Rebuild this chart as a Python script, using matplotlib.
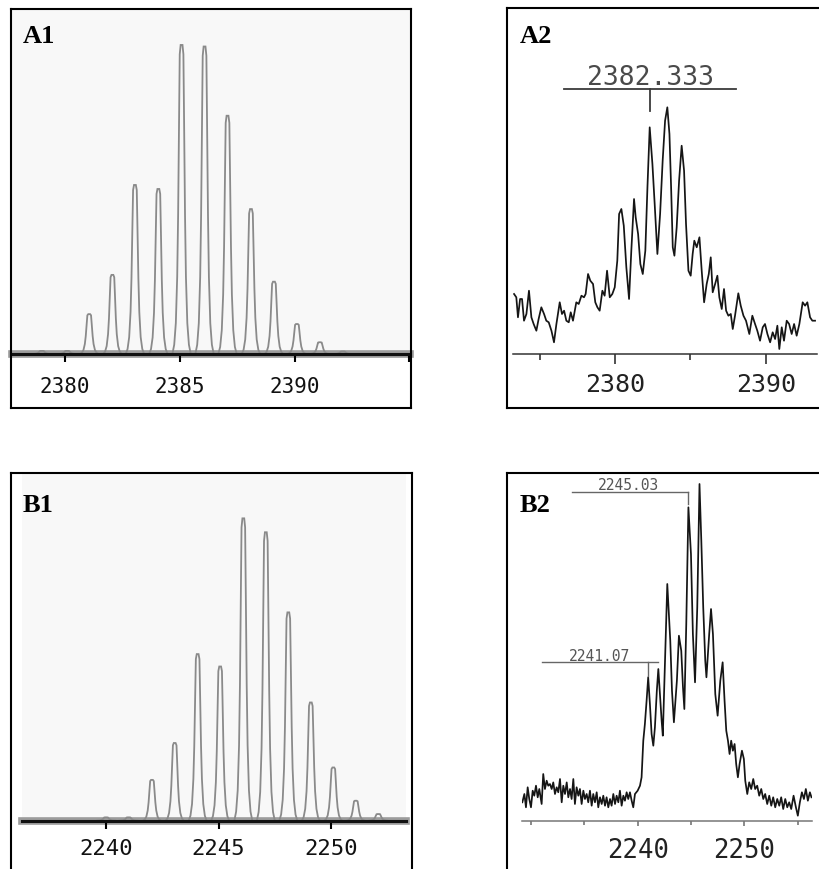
import numpy as np
import matplotlib
matplotlib.use("Agg")
import matplotlib.pyplot as plt

W, H = 819, 870

# ---------------- data ----------------
# A1: simulated isotope pattern (peak m/z, relative intensity %)
a1_mz = [2379.0, 2380.1, 2381.06, 2382.07, 2383.05, 2384.07, 2385.08, 2386.08,
         2387.08, 2388.1, 2389.1, 2390.1, 2391.1, 2392.1]
a1_int = [1.0, 1.0, 12.9, 25.6, 54.7, 53.4, 100.0, 99.5, 77.1, 46.9, 23.4, 9.7, 3.8, 0.8]

# B1: simulated isotope pattern
b1_mz = [2240.0, 2241.0, 2242.04, 2243.05, 2244.07, 2245.07, 2246.1, 2247.1,
         2248.1, 2249.1, 2250.1, 2251.1, 2252.1]
b1_int = [1.1, 1.1, 13.5, 25.7, 55.1, 51.0, 100.0, 95.4, 68.9, 39.1, 17.6, 6.6, 2.2]

# A2: measured spectrum trace (m/z, intensity a.u.)
a2_mz = [2373.30, 2373.45, 2373.56, 2373.70, 2373.83, 2373.96, 2374.12, 2374.29, 2374.45, 2374.60,
         2374.78, 2374.93, 2375.11, 2375.29, 2375.44, 2375.60, 2375.78, 2375.95, 2376.11, 2376.33,
         2376.48, 2376.62, 2376.77, 2376.93, 2377.06, 2377.21, 2377.43, 2377.59, 2377.77, 2377.94,
         2378.05, 2378.21, 2378.36, 2378.54, 2378.69, 2378.83, 2378.98, 2379.16, 2379.31, 2379.47,
         2379.65, 2379.82, 2379.98, 2380.15, 2380.27, 2380.42, 2380.58, 2380.75, 2380.93, 2381.08,
         2381.26, 2381.37, 2381.53, 2381.68, 2381.84, 2382.01, 2382.15, 2382.30, 2382.48, 2382.63,
         2382.81, 2382.99, 2383.16, 2383.32, 2383.47, 2383.61, 2383.72, 2383.83, 2383.94, 2384.09,
         2384.25, 2384.42, 2384.58, 2384.71, 2384.87, 2385.02, 2385.15, 2385.26, 2385.42, 2385.60,
         2385.75, 2385.91, 2386.08, 2386.22, 2386.35, 2386.48, 2386.64, 2386.79, 2386.92, 2387.08,
         2387.23, 2387.37, 2387.52, 2387.68, 2387.81, 2387.96, 2388.18, 2388.34, 2388.52, 2388.69,
         2388.91, 2389.11, 2389.29, 2389.44, 2389.62, 2389.80, 2389.95, 2390.11, 2390.29, 2390.46,
         2390.62, 2390.77, 2390.90, 2391.06, 2391.21, 2391.39, 2391.55, 2391.72, 2391.88, 2392.05,
         2392.23, 2392.45, 2392.61, 2392.76, 2392.94, 2393.09, 2393.27]
a2_int = [60.0, 56.7, 36.7, 55.0, 55.0, 33.3, 40.0, 63.3, 36.7, 30.0,
          23.3, 35.0, 46.7, 40.0, 33.3, 31.7, 23.3, 11.7, 30.0, 51.7,
          40.0, 43.3, 33.3, 31.7, 41.7, 33.3, 51.7, 50.0, 58.3, 56.7,
          60.0, 80.0, 73.3, 70.0, 51.7, 46.7, 43.3, 63.3, 58.3, 83.3,
          56.7, 60.0, 66.7, 93.3, 140.0, 145.0, 128.3, 86.7, 55.0, 103.3,
          155.0, 136.7, 120.0, 90.0, 80.0, 103.3, 166.7, 226.7, 190.0, 150.0,
          100.0, 140.0, 193.3, 233.3, 246.7, 220.0, 166.7, 106.7, 98.3, 126.7,
          173.3, 208.3, 183.3, 130.0, 83.3, 78.3, 100.0, 113.3, 106.7, 116.7,
          83.3, 51.7, 70.0, 80.0, 96.7, 61.7, 70.0, 78.3, 56.7, 45.0,
          65.0, 43.3, 38.3, 40.0, 25.0, 38.3, 60.7, 48.3, 38.3, 33.3,
          20.0, 38.3, 30.0, 23.3, 13.3, 26.7, 30.0, 20.0, 11.7, 21.7,
          15.0, 28.3, 5.0, 26.7, 13.3, 33.3, 30.0, 20.0, 30.0, 18.3,
          30.0, 51.7, 48.3, 51.7, 36.7, 33.3, 33.3]

# B2: measured spectrum trace (m/z, intensity a.u.)
b2_mz = [2229.19, 2229.38, 2229.53, 2229.69, 2229.84, 2230.00, 2230.16, 2230.31, 2230.47, 2230.63,
         2230.78, 2231.00, 2231.15, 2231.31, 2231.47, 2231.62, 2231.78, 2231.94, 2232.09, 2232.25,
         2232.41, 2232.56, 2232.72, 2232.88, 2233.03, 2233.19, 2233.35, 2233.50, 2233.66, 2233.81,
         2233.97, 2234.12, 2234.28, 2234.44, 2234.59, 2234.75, 2234.91, 2235.06, 2235.22, 2235.37,
         2235.53, 2235.69, 2235.84, 2236.00, 2236.16, 2236.31, 2236.47, 2236.63, 2236.78, 2236.94,
         2237.09, 2237.25, 2237.41, 2237.56, 2237.72, 2237.88, 2238.03, 2238.19, 2238.34, 2238.50,
         2238.66, 2238.81, 2238.97, 2239.12, 2239.28, 2239.44, 2239.59, 2239.75, 2240.00, 2240.22,
         2240.37, 2240.53, 2240.68, 2240.84, 2240.99, 2241.15, 2241.31, 2241.47, 2241.62, 2241.80,
         2241.94, 2242.10, 2242.25, 2242.36, 2242.53, 2242.78, 2243.06, 2243.22, 2243.40, 2243.68,
         2243.87, 2244.09, 2244.25, 2244.38, 2244.56, 2244.76, 2245.00, 2245.18, 2245.38, 2245.59,
         2245.80, 2245.97, 2246.15, 2246.34, 2246.45, 2246.71, 2246.88, 2247.06, 2247.28, 2247.50,
         2247.75, 2247.97, 2248.15, 2248.31, 2248.47, 2248.62, 2248.77, 2248.93, 2249.09, 2249.24,
         2249.40, 2249.56, 2249.78, 2249.96, 2250.09, 2250.28, 2250.46, 2250.65, 2250.84, 2251.02,
         2251.21, 2251.40, 2251.59, 2251.78, 2251.96, 2252.15, 2252.34, 2252.53, 2252.71, 2252.90,
         2253.09, 2253.28, 2253.46, 2253.65, 2253.84, 2254.03, 2254.21, 2254.40, 2254.62, 2254.84,
         2255.02, 2255.21, 2255.40, 2255.59, 2255.77, 2255.96, 2256.15, 2256.30]
b2_int = [18.4, 26.7, 13.4, 33.4, 21.7, 13.4, 30.0, 25.0, 35.0, 23.4,
          31.7, 16.7, 46.7, 31.7, 40.0, 35.0, 36.7, 31.7, 38.3, 26.7,
          33.4, 28.4, 41.7, 18.4, 35.0, 26.7, 38.3, 23.4, 31.7, 21.7,
          41.7, 16.7, 33.4, 25.0, 31.7, 16.7, 30.0, 21.7, 26.7, 18.4,
          30.0, 15.0, 26.7, 18.4, 28.4, 13.4, 23.4, 16.7, 25.0, 15.0,
          23.4, 13.4, 21.7, 15.0, 26.7, 16.7, 25.0, 18.4, 30.0, 15.0,
          25.0, 20.0, 28.4, 21.7, 28.4, 20.0, 13.4, 26.7, 30.0, 35.0,
          43.4, 80.0, 96.7, 120.0, 143.4, 116.7, 86.7, 75.0, 93.4, 130.0,
          151.7, 125.0, 100.0, 85.0, 146.7, 236.7, 180.0, 130.0, 98.4, 140.0,
          185.0, 170.0, 133.4, 111.7, 196.7, 313.4, 266.7, 186.7, 138.4, 213.4,
          336.7, 280.0, 213.4, 160.0, 143.4, 186.7, 211.7, 186.7, 126.7, 105.0,
          140.0, 158.4, 120.0, 90.0, 80.0, 66.7, 80.0, 70.0, 76.7, 56.7,
          43.4, 56.7, 70.0, 61.7, 40.0, 26.7, 38.4, 31.7, 41.7, 31.7,
          35.0, 25.0, 31.7, 21.7, 26.7, 16.7, 25.0, 15.0, 23.4, 13.4,
          21.7, 15.0, 23.4, 11.7, 21.7, 13.4, 18.4, 11.7, 25.0, 13.4,
          5.0, 18.4, 28.4, 21.7, 31.7, 20.0, 28.4, 23.4]

# axis ticks / labels
a1_ticks, a1_labels = [2380, 2385, 2390, 2395], ["2380", "2385", "2390", ""]
a2_major, a2_labels, a2_minor = [2380, 2390], ["2380", "2390"], [2375, 2385]
b1_ticks, b1_labels = [2240, 2245, 2250], ["2240", "2245", "2250"]
b2_major, b2_labels, b2_minor = [2240, 2250], ["2240", "2250"], [2230, 2235, 2245, 2255]

# annotations
a2_annot = ("2382.333", 2382.32)
b2_annots = [("2245.03", 2244.74), ("2241.07", 2240.94)]

panel_titles = ["A1", "A2", "B1", "B2"]

# ---------------- helpers ----------------
fig = plt.figure(figsize=(W / 100, H / 100), dpi=100)
fig.patch.set_facecolor("white")


def box(x0, y0, x1, y1):
    return [x0 / W, 1 - y1 / H, (x1 - x0) / W, (y1 - y0) / H]


def frame(x0, y0, x1, y1):
    ax = fig.add_axes(box(x0, y0, x1, y1), zorder=5)
    ax.set_facecolor("none")
    ax.set_xticks([])
    ax.set_yticks([])
    for s in ax.spines.values():
        s.set_linewidth(1.5)
        s.set_color("black")
    return ax


def inner(x0, y0, x1, y1, xlim, ylim, face):
    ax = fig.add_axes(box(x0, y0, x1, y1), zorder=1)
    ax.set_facecolor(face)
    for k in ("top", "left", "right"):
        ax.spines[k].set_visible(False)
    ax.set_yticks([])
    ax.set_xlim(*xlim)
    ax.set_ylim(*ylim)
    return ax


mono = "DejaVu Sans Mono"

# peak outline template (fraction of height, half width in m/z)
prof_f = np.array([0.0, 0.03, 0.10, 0.25, 0.45, 0.75, 0.97, 1.0])
prof_w = np.array([0.40, 0.32, 0.25, 0.19, 0.15, 0.11, 0.08, 0.04])
pk_f = np.concatenate([prof_f, prof_f[::-1]])


def stick_panel(ax, mz, inten, ticks, labels, fs, pad):
    for c, h in zip(mz, inten):
        xs = np.concatenate([c - prof_w, (c + prof_w)[::-1]])
        ax.plot(xs, h * pk_f, color="#8a8a8a", lw=1.3, solid_joinstyle="miter")
    ax.axhline(0, color="#9c9c9c", lw=5.5, zorder=1.5, clip_on=False)
    ax.spines["bottom"].set_linewidth(2.2)
    ax.spines["bottom"].set_color("#111111")
    ax.spines["bottom"].set_zorder(3)
    ax.set_xticks(ticks)
    ax.set_xticklabels(labels, fontfamily=mono, fontsize=fs, color="#111111")
    ax.tick_params(axis="x", direction="out", length=5.8, width=1.5, color="black", pad=pad)


def trace_panel(ax, mz, inten, major, labels, minor, fs, pad, col, mlen, mnlen):
    ax.plot(mz, inten, color="#151515", lw=1.25)
    ax.spines["bottom"].set_linewidth(1.1)
    ax.spines["bottom"].set_color(col)
    ax.set_xticks(major)
    ax.set_xticklabels(labels, fontfamily=mono, fontsize=fs, color="#222222")
    ax.set_xticks(minor, minor=True)
    ax.tick_params(axis="x", which="major", direction="out", length=mlen, width=1.2, color=col, pad=pad)
    ax.tick_params(axis="x", which="minor", direction="out", length=mnlen, width=1.2, color=col)


# ---------------- A1 ----------------
ax_a1 = inner(12, 9.5, 409.5, 355, (2377.70, 2395.0), (0, 111.8), "#f8f8f8")
stick_panel(ax_a1, a1_mz, a1_int, a1_ticks, a1_labels, 15, 10.0)
frame(10.7, 9.5, 410.7, 409)

# ---------------- A2 ----------------
ax_a2 = inner(513, 9.3, 817, 355, (2373.23, 2393.40), (0, 345.7), "white")
trace_panel(ax_a2, a2_mz, a2_int, a2_major, a2_labels, a2_minor, 18, 5.5, "#333333", 7.2, 4.5)
lab, pos = a2_annot
ax_a2.text(pos, 270, lab, ha="center", va="baseline", fontfamily=mono, fontsize=19, color="#4a4a4a")
ax_a2.plot([2376.62, 2388.01], [265, 265], color="#3a3a3a", lw=1.3)
ax_a2.plot([pos, pos], [265, 243], color="#3a3a3a", lw=1.3)
frame(506.7, 9.3, 822, 409.3)

# ---------------- B1 ----------------
ax_b1 = inner(21.7, 474, 406, 821.7, (2236.25, 2253.33), (0, 115.0), "#f8f8f8")
stick_panel(ax_b1, b1_mz, b1_int, b1_ticks, b1_labels, 16, 6.7)
frame(10.7, 474, 411.7, 873)

# ---------------- B2 ----------------
ax_b2 = inner(521.7, 474, 811.7, 821.7, (2229.13, 2256.32), (0, 347.7), "white")
trace_panel(ax_b2, b2_mz, b2_int, b2_major, b2_labels, b2_minor, 18.5, 8.0, "#777777", 3.5, 3.0)
(l1, p1), (l2, p2) = b2_annots
ax_b2.text(2239.18, 331.7, l1, ha="center", va="baseline", fontfamily=mono, fontsize=10.5, color="#555555")
ax_b2.plot([2233.81, p1], [328.4, 328.4], color="#666666", lw=1.0)
ax_b2.plot([p1, p1], [328.4, 316.7], color="#666666", lw=1.0)
ax_b2.text(2236.47, 161.0, l2, ha="center", va="baseline", fontfamily=mono, fontsize=10.5, color="#555555")
ax_b2.plot([2231.0, 2241.93], [158.4, 158.4], color="#666666", lw=1.0)
ax_b2.plot([p2, p2], [158.4, 145.0], color="#666666", lw=1.0)
frame(506.7, 474, 822, 873)

# ---------------- panel titles ----------------
for t, (px, py) in zip(panel_titles, [(23, 43), (520, 43), (23, 512), (520, 512)]):
    fig.text(px / W, 1 - py / H, t, ha="left", va="baseline",
             fontfamily="Liberation Serif", fontweight="bold", fontsize=19, color="black", zorder=10)

fig.savefig("out.png", dpi=100, facecolor="white")
